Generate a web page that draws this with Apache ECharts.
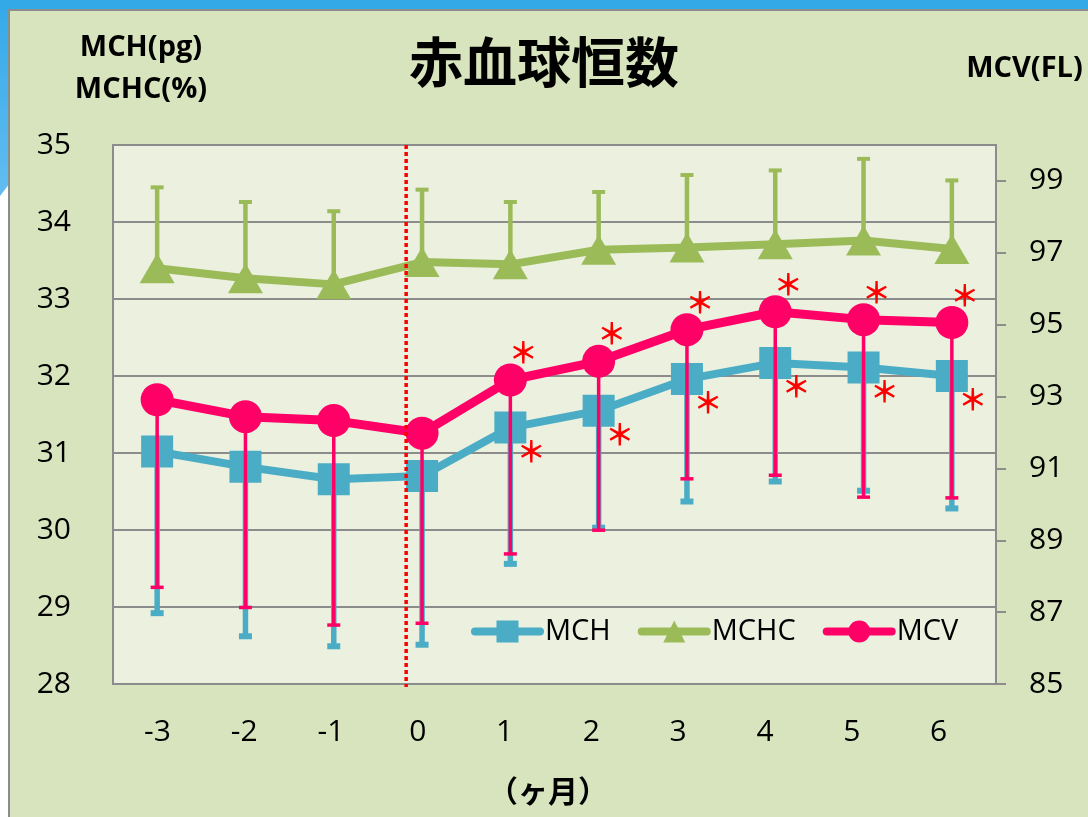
<!DOCTYPE html>
<html>
<head>
<meta charset="utf-8">
<script src="https://cdn.jsdelivr.net/npm/echarts@6/dist/echarts.min.js"></script>
<style>
html,body{margin:0;padding:0;background:#fff;}
#chart{width:1088px;height:817px;}
</style>
</head>
<body>
<div id="chart"></div>
<script>
// ---- data ----
const months = ['-3', '-2', '-1', '0', '1', '2', '3', '4', '5', '6'];
const mch = [31.02, 30.82, 30.66, 30.70, 31.33, 31.55, 31.96, 32.17, 32.11, 32.00];
const mchLow = [28.92, 28.62, 28.49, 28.51, 29.56, 30.03, 30.37, 30.63, 30.51, 30.28];
const mchc = [33.40, 33.27, 33.19, 33.48, 33.45, 33.64, 33.67, 33.71, 33.76, 33.65];
const mchcHigh = [34.45, 34.26, 34.14, 34.42, 34.26, 34.39, 34.61, 34.67, 34.82, 34.54];
const mcv = [92.91, 92.44, 92.33, 91.98, 93.46, 93.98, 94.86, 95.36, 95.14, 95.06];
const mcvLow = [87.69, 87.13, 86.64, 86.69, 88.62, 89.28, 90.71, 90.81, 90.20, 90.18];
const mchSig = [false, false, false, false, true, true, true, true, true, true];
const mcvSig = [false, false, false, false, true, true, true, true, true, true];
const dividerMonth = -0.18;
const titleText = '赤血球恒数';
const leftAxisName = 'MCH(pg)\nMCHC(%)';
const rightAxisName = 'MCV(FL)';
const xAxisName = '（ヶ月）';

const C_MCH = '#4bacc6', C_MCHC = '#9bbb59', C_MCV = '#ff0066', C_RED = '#ff0000';
const FONT = "'Open Sans', 'Noto Sans', sans-serif";
const CJK = "'Noto Sans CJK JP', sans-serif";

function errorBar(color, stemW, capW, capH) {
  return function (params, api) {
    const i = api.value(0);
    const p0 = api.coord([i, api.value(1)]);
    const p1 = api.coord([i, api.value(2)]);
    return {
      type: 'group',
      children: [
        { type: 'line', shape: { x1: p0[0], y1: p0[1], x2: p1[0], y2: p1[1] }, style: { stroke: color, lineWidth: stemW } },
        { type: 'rect', shape: { x: p1[0] - capW / 2, y: p1[1] - capH / 2, width: capW, height: capH }, style: { fill: color } }
      ]
    };
  };
}

const starLabel = (offset) => ({
  show: false, position: 'inside', formatter: '＊', color: C_RED,
  fontSize: 29, fontWeight: 'bold', fontFamily: CJK, offset: offset
});

const chart = echarts.init(document.getElementById('chart'), null, { renderer: 'canvas' });
chart.setOption({
  animation: false,
  backgroundColor: '#ffffff',
  graphic: [
    { type: 'rect', z: -5, shape: { x: 0, y: 0, width: 1088, height: 10 }, style: { fill: '#33a9e8' } },
    { type: 'polygon', z: -5, shape: { points: [[0, 0], [10, 0], [10, 183], [0, 196]] },
      style: { fill: new echarts.graphic.LinearGradient(0, 0, 0, 1, [{ offset: 0, color: '#33a9e8' }, { offset: 1, color: '#62bdf0' }]) } },
    { type: 'rect', z: -4, shape: { x: 9, y: 10, width: 1090, height: 820 }, style: { fill: '#d8e4bd', stroke: '#8c8c8c', lineWidth: 2 } },
    { type: 'text', z: 10, x: 141, y: 69,
      style: { text: leftAxisName, align: 'center', verticalAlign: 'middle', lineHeight: 42,
        fontFamily: FONT, fontWeight: 'bold', fontSize: 29, fill: '#000' } }
  ],
  title: {
    text: titleText, left: 'center', top: 26,
    textStyle: { fontFamily: CJK, fontWeight: 'bold', fontSize: 54, color: '#000', lineHeight: 62 }
  },
  legend: {
    left: 471, top: 617, padding: 0, itemWidth: 65, itemHeight: 27.5, itemGap: 27,
    lineStyle: { width: 8, cap: 'round' },
    textStyle: { fontFamily: FONT, fontSize: 29, color: '#000' },
    data: ['MCH', 'MCHC', 'MCV']
  },
  grid: [
    { left: 113, right: 92, top: 145, bottom: 133, show: true, backgroundColor: '#ebf0df', borderColor: '#8c8c8c', borderWidth: 2 },
    { left: 114, width: 868, top: 145, bottom: 133, show: false }
  ],
  xAxis: [
    { type: 'category', gridIndex: 0, data: months, boundaryGap: true,
      axisLine: { show: false }, axisTick: { show: false }, axisLabel: { show: false }, splitLine: { show: false } },
    { type: 'value', gridIndex: 0, min: -3.5, max: 6.5, show: false },
    { type: 'category', gridIndex: 1, data: months, boundaryGap: true,
      axisLine: { show: false }, axisTick: { show: false }, splitLine: { show: false },
      axisLabel: { fontFamily: FONT, fontSize: 30, color: '#000', margin: 33, lineHeight: 30 },
      name: xAxisName, nameLocation: 'middle', nameGap: 92,
      nameTextStyle: { fontFamily: CJK, fontSize: 30, fontWeight: 'bold', color: '#000', lineHeight: 30 } }
  ],
  yAxis: [
    { type: 'value', gridIndex: 0, min: 28, max: 35, interval: 1, position: 'left',
      axisLine: { show: false }, axisTick: { show: false },
      splitLine: { show: true, lineStyle: { color: '#8c8c8c', width: 2 } },
      axisLabel: { fontFamily: FONT, fontSize: 30, color: '#000', margin: 42 } },
    { type: 'value', gridIndex: 0, min: 85, max: 100, interval: 2, position: 'right',
      axisLine: { show: true, lineStyle: { color: '#8c8c8c', width: 2 } },
      axisTick: { show: true, inside: false, length: 10, lineStyle: { color: '#8c8c8c', width: 2 } },
      splitLine: { show: false },
      axisLabel: { fontFamily: FONT, fontSize: 30, color: '#000', margin: 33, showMaxLabel: false },
      name: rightAxisName, nameLocation: 'end', nameGap: 55,
      nameTextStyle: { fontFamily: FONT, fontWeight: 'bold', fontSize: 29, color: '#000', lineHeight: 42, align: 'center', padding: [0, 0, 0, 57] } },
    { type: 'value', gridIndex: 1, min: 28, max: 35, show: false }
  ],
  series: [
    { name: 'MCH err', type: 'custom', xAxisIndex: 0, yAxisIndex: 0, silent: true, z: 2,
      renderItem: errorBar(C_MCH, 5.5, 13, 6),
      data: months.map((m, i) => [i, mch[i], mchLow[i]]), encode: { x: 0, y: [1, 2] } },
    { name: 'MCH', type: 'line', xAxisIndex: 0, yAxisIndex: 0, z: 3,
      symbol: 'rect', symbolSize: 32, color: C_MCH,
      lineStyle: { color: C_MCH, width: 8, cap: 'round' }, itemStyle: { color: C_MCH },
      label: starLabel([21, 24]),
      data: mch.map((v, i) => ({ value: v, label: { show: mchSig[i] } })) },
    { name: 'MCHC err', type: 'custom', xAxisIndex: 0, yAxisIndex: 0, silent: true, z: 3,
      renderItem: errorBar(C_MCHC, 4.5, 13, 4),
      data: months.map((m, i) => [i, mchc[i], mchcHigh[i]]), encode: { x: 0, y: [1, 2] } },
    { name: 'MCHC', type: 'line', xAxisIndex: 0, yAxisIndex: 0, z: 4,
      symbol: 'triangle', symbolSize: [35, 30], color: C_MCHC,
      lineStyle: { color: C_MCHC, width: 8, cap: 'round' }, itemStyle: { color: C_MCHC },
      data: mchc },
    { name: 'MCV err', type: 'custom', xAxisIndex: 0, yAxisIndex: 1, silent: true, z: 5,
      renderItem: errorBar(C_MCV, 3.5, 13, 3.5),
      data: months.map((m, i) => [i, mcv[i], mcvLow[i]]), encode: { x: 0, y: [1, 2] } },
    { name: 'MCV', type: 'line', xAxisIndex: 0, yAxisIndex: 1, z: 6,
      symbol: 'circle', symbolSize: 33, color: C_MCV,
      lineStyle: { color: C_MCV, width: 9, cap: 'round' }, itemStyle: { color: C_MCV },
      label: starLabel([13, -27]),
      data: mcv.map((v, i) => ({ value: v, label: { show: mcvSig[i] } })) },
    { name: 'divider', type: 'custom', xAxisIndex: 1, yAxisIndex: 0, silent: true, z: 8,
      renderItem: function (params, api) {
        const cs = params.coordSys;
        const x = api.coord([api.value(0), 28])[0];
        return { type: 'line', shape: { x1: x, y1: cs.y, x2: x, y2: cs.y + cs.height + 3 },
          style: { stroke: C_RED, lineWidth: 3.5, lineDash: [4, 3] } };
      },
      data: [[dividerMonth, 28]], encode: { x: 0, y: 1 } }
  ]
});
</script>
</body>
</html>
